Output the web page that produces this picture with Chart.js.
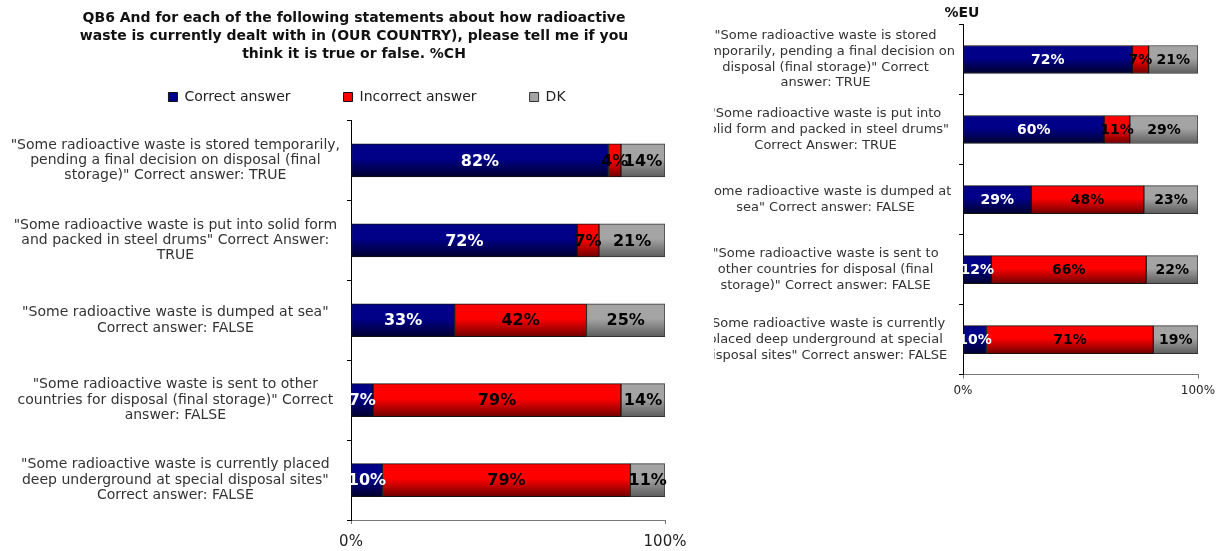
<!DOCTYPE html>
<html>
<head>
<meta charset="utf-8">
<script src="https://cdn.jsdelivr.net/npm/chart.js@4.4.0/dist/chart.umd.min.js"></script>
<style>
  body { margin: 0; background: #fff; width: 1225px; height: 551px; overflow: hidden; position: relative; }
  canvas { position: absolute; top: 0; }
  #chartCH { left: 0; }
  #chartEU { left: 714px; }
</style>
</head>
<body>
<canvas id="chartCH" width="700" height="551"></canvas>
<canvas id="chartEU" width="511" height="400"></canvas>
<script>
const seriesNames = ['Correct answer', 'Incorrect answer', 'DK'];

const statementsCH = [
  ['"Some radioactive waste is stored temporarily,', 'pending a final decision on disposal (final', 'storage)" Correct answer: TRUE'],
  ['"Some radioactive waste is put into solid form', 'and packed in steel drums" Correct Answer:', 'TRUE'],
  ['"Some radioactive waste is dumped at sea"', 'Correct answer: FALSE'],
  ['"Some radioactive waste is sent to other', 'countries for disposal (final storage)" Correct', 'answer: FALSE'],
  ['"Some radioactive waste is currently placed', 'deep underground at special disposal sites"', 'Correct answer: FALSE']
];
const statementsEU = [
  ['"Some radioactive waste is stored', 'temporarily, pending a final decision on', 'disposal (final storage)" Correct', 'answer: TRUE'],
  ['"Some radioactive waste is put into', 'solid form and packed in steel drums"', 'Correct Answer: TRUE'],
  ['"Some radioactive waste is dumped at', 'sea" Correct answer: FALSE'],
  ['"Some radioactive waste is sent to', 'other countries for disposal (final', 'storage)" Correct answer: FALSE'],
  ['"Some radioactive waste is currently', 'placed deep underground at special', 'disposal sites" Correct answer: FALSE']
];

const correctCH = [82, 72, 33, 7, 10];
const incorrectCH = [4, 7, 42, 79, 79];
const dkCH = [14, 21, 25, 14, 11];

const correctEU = [72, 60, 29, 12, 10];
const incorrectEU = [7, 11, 48, 66, 71];
const dkEU = [21, 29, 23, 22, 19];

const titleCH = [
  'QB6 And for each of the following statements about how radioactive',
  'waste is currently dealt with in (OUR COUNTRY), please tell me if you',
  'think it is true or false. %CH'
];
const titleEU = '%EU';

// cores: topo claro, base escura (gradiente das barras)
const colors = [
  ['#000088', '#00002e'],
  ['#ff0000', '#700000'],
  ['#a4a4a4', '#5c5c5c']
];

// gradiente vertical de cada barra, a partir da posição da categoria
function gradient(top, bottom, thick) {
  return function (c) {
    const chart = c.chart;
    const y = chart.scales.y;
    if (c.dataIndex === undefined || !y || !chart.chartArea) return top;
    const cy = y.getPixelForValue(c.dataIndex);
    const g = chart.ctx.createLinearGradient(0, cy - thick / 2, 0, cy + thick / 2);
    g.addColorStop(0, top);
    g.addColorStop(0.45, top);
    g.addColorStop(1, bottom);
    return g;
  };
}

// rótulos de valor dentro das barras
const valueLabels = {
  id: 'valueLabels',
  afterDatasetsDraw(chart, args, opts) {
    const ctx = chart.ctx;
    ctx.save();
    ctx.font = 'bold ' + opts.size + 'px "DejaVu Sans"';
    ctx.textAlign = 'center';
    ctx.textBaseline = 'middle';
    chart.data.datasets.forEach((ds, i) => {
      chart.getDatasetMeta(i).data.forEach((bar, j) => {
        const p = bar.getCenterPoint();
        ctx.fillStyle = i === 0 ? '#ffffff' : '#000000';
        ctx.fillText(ds.data[j] + '%', p.x, p.y + 1);
      });
    });
    ctx.restore();
  }
};

// legenda com altura fixa; rótulos do eixo y sem recorte na margem
const layoutFix = {
  id: 'layoutFix',
  beforeInit(chart, args, opts) {
    if (!chart.legend || !opts.legendHeight) return;
    const fit = chart.legend.fit;
    chart.legend.fit = function () {
      fit.call(this);
      this.height = opts.legendHeight;
      if (this.lineWidths && this.lineWidths.length) this.lineWidths[0] -= opts.shift;
    };
  },
  afterLayout(chart) {
    chart.scales.y.left = 0;
  }
};

function makeChart(id, labels, values, cfg) {
  const datasets = values.map((data, i) => ({
    label: seriesNames[i],
    data: data,
    backgroundColor: gradient(colors[i][0], colors[i][1], cfg.barThickness),
    borderColor: i === 2 ? '#333333' : '#111111',
    borderWidth: 1,
    borderSkipped: false,
    barThickness: cfg.barThickness
  }));

  return new Chart(document.getElementById(id), {
    type: 'bar',
    data: { labels: labels, datasets: datasets },
    plugins: [valueLabels, layoutFix],
    options: {
      indexAxis: 'y',
      responsive: false,
      animation: false,
      events: [],
      layout: { padding: cfg.padding },
      scales: {
        x: {
          stacked: true,
          min: 0,
          max: 100,
          ticks: {
            stepSize: 100,
            color: '#222',
            padding: cfg.xTickPadding,
            font: { family: 'DejaVu Sans', size: cfg.xFont },
            callback: v => v + '%'
          },
          grid: { drawOnChartArea: false, drawTicks: true, tickLength: 4, color: '#777' },
          border: { display: true, color: '#777', width: 1 }
        },
        y: {
          stacked: true,
          afterFit(scale) {
            scale.width = cfg.yWidth;
            scale.paddingTop = 0;
            scale.paddingBottom = 0;
          },
          ticks: {
            autoSkip: false,
            crossAlign: 'center',
            padding: cfg.yTickPadding,
            color: '#333',
            font: { family: 'DejaVu Sans', size: cfg.yFont, lineHeight: cfg.yLine }
          },
          grid: { drawOnChartArea: false, drawTicks: true, tickLength: 4, color: '#000', offset: true },
          border: { display: true, color: '#000', width: 1 }
        }
      },
      plugins: {
        title: {
          display: true,
          text: cfg.title,
          color: '#111',
          font: { family: 'DejaVu Sans', size: 14, weight: 'bold', lineHeight: cfg.titleLine },
          padding: cfg.titlePadding
        },
        legend: {
          display: cfg.legend,
          labels: {
            boxWidth: 9,
            boxHeight: 9,
            padding: 53,
            color: '#222',
            font: { family: 'DejaVu Sans', size: 14 }
          }
        },
        layoutFix: { legendHeight: cfg.legend ? 83.5 : 0, shift: 26 },
        tooltip: { enabled: false },
        valueLabels: { size: cfg.valueFont }
      }
    }
  });
}

makeChart('chartCH', statementsCH, [correctCH, incorrectCH, dkCH], {
  title: titleCH,
  titleLine: 1.3,
  titlePadding: { top: 9, bottom: -26.6 },
  legend: true,
  padding: { left: 43, right: 35, top: 0, bottom: -9 },
  yWidth: 308,
  yFont: 14,
  yLine: 1.1,
  yTickPadding: 7,
  xFont: 15,
  xTickPadding: 9,
  barThickness: 33,
  valueFont: 16
});

makeChart('chartEU', statementsEU, [correctEU, incorrectEU, dkEU], {
  title: titleEU,
  titleLine: 1.2,
  titlePadding: { top: 4.6, bottom: 3.1 },
  legend: false,
  padding: { left: 12, right: 27, top: 0, bottom: -3 },
  yWidth: 237,
  yFont: 13,
  yLine: 1.2,
  yTickPadding: 4,
  xFont: 12,
  xTickPadding: 5,
  barThickness: 28,
  valueFont: 14
});
</script>
</body>
</html>
